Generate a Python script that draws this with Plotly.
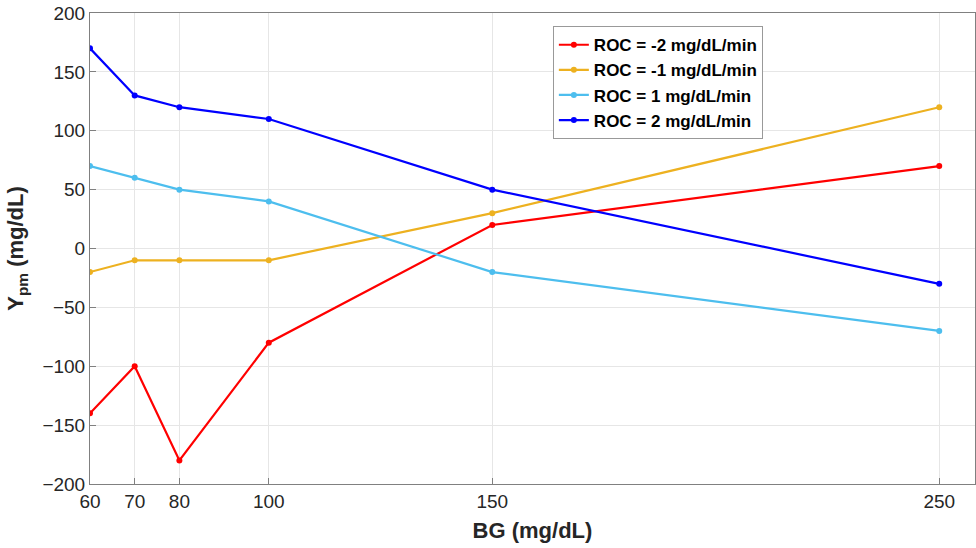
import plotly.graph_objects as go

bg = [60, 70, 80, 100, 150, 250]
roc_m2 = [-140, -100, -180, -80, 20, 70]
roc_m1 = [-20, -10, -10, -10, 30, 120]
roc_p1 = [70, 60, 50, 40, -20, -70]
roc_p2 = [170, 130, 120, 110, 50, -30]
names = ["ROC = -2 mg/dL/min", "ROC = -1 mg/dL/min", "ROC = 1 mg/dL/min", "ROC = 2 mg/dL/min"]
colors = ["#FF0000", "#EDB120", "#4DBEEE", "#0000FF"]
series = [roc_m2, roc_m1, roc_p1, roc_p2]
yticks = [-200, -150, -100, -50, 0, 50, 100, 150, 200]

fig = go.Figure()
for n, c, s in zip(names, colors, series):
    fig.add_trace(go.Scatter(x=bg, y=s, name=n, mode="lines+markers",
                             line=dict(color=c, width=2.2),
                             marker=dict(color=c, size=6)))

axis_common = dict(showline=True, linecolor="#808080", linewidth=1, mirror=True,
                   ticks="inside", ticklen=6, tickcolor="#808080",
                   showgrid=True, gridcolor="#E6E6E6", gridwidth=1, zeroline=False,
                   tickfont=dict(family="Liberation Sans, Arial", size=19, color="#262626"))

fig.update_layout(
    width=976, height=548,
    margin=dict(l=90, r=1, t=13, b=64),
    plot_bgcolor="white", paper_bgcolor="white",
    xaxis=dict(range=[60, 258], tickvals=bg, ticktext=[str(v) for v in bg],
               title=dict(text="<b>BG (mg/dL)</b>", standoff=11,
                          font=dict(family="Liberation Sans, Arial", size=22, color="#262626")),
               **axis_common),
    yaxis=dict(range=[-200, 200], tickvals=yticks,
               title=dict(text="<b>Y<sub>pm</sub> (mg/dL)</b>", standoff=12,
                          font=dict(family="Liberation Sans, Arial", size=22, color="#262626")),
               **axis_common),
    legend=dict(x=0.523, y=0.972, xanchor="left", yanchor="top",
                bgcolor="white", bordercolor="#999999", borderwidth=1,
                font=dict(family="Liberation Sans, Arial", size=17, color="black", weight="bold"),
                tracegroupgap=0, itemwidth=30),
    showlegend=True,
)
fig.write_html("out.html")
